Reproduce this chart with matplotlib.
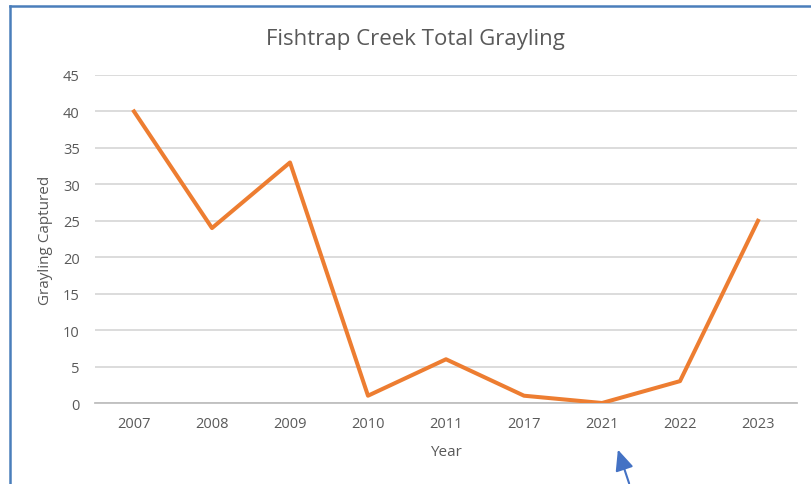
import matplotlib
matplotlib.use("Agg")
import matplotlib.pyplot as plt
from matplotlib.lines import Line2D

years = ["2007", "2008", "2009", "2010", "2011", "2017", "2021", "2022", "2023"]
grayling = [40, 24, 33, 1, 6, 1, 0, 3, 25]
yticks = [0, 5, 10, 15, 20, 25, 30, 35, 40, 45]

plt.rcParams['font.family'] = ['Open Sans', 'DejaVu Sans']
txt = '#595959'

fig = plt.figure(figsize=(8.12, 4.85), dpi=100)
ax = fig.add_axes([95/812, 1-404/485, 702/812, 328/485])

x = list(range(len(years)))
ax.plot(x, grayling, color='#ED7D31', linewidth=2.9, solid_joinstyle='round', zorder=3)
ax.set_xlim(-0.5, len(years)-0.5)
ax.set_ylim(0, 45)
ax.set_yticks(yticks)
ax.set_xticks(x)
ax.set_xticklabels(years)
ax.grid(axis='y', color='#d9d9d9', linewidth=1.3)
ax.set_axisbelow(True)
for s in ['top', 'right', 'left']:
    ax.spines[s].set_visible(False)
ax.spines['bottom'].set_color('#bfbfbf')
ax.spines['bottom'].set_linewidth(1.3)
ax.tick_params(axis='both', length=0, colors=txt, labelsize=10.5)
ax.tick_params(axis='y', pad=11)
ax.tick_params(axis='x', pad=9)
ax.set_xlabel('Year', color=txt, fontsize=11, labelpad=10)
ax.set_ylabel('Grayling Captured', color=txt, fontsize=11, labelpad=7)
fig.text(415/812, 1-40/485, 'Fishtrap Creek Total Grayling', color=txt, fontsize=16,
         ha='center', va='center')

# frame border
fig.add_artist(Line2D([10/812, 10/812], [0, 1-7/485], transform=fig.transFigure,
                      color='#4a7ebb', linewidth=1.8))
fig.add_artist(Line2D([10/812, 1], [1-7/485, 1-7/485], transform=fig.transFigure,
                      color='#4a7ebb', linewidth=1.8))
# arrow
fig.add_artist(matplotlib.patches.FancyArrowPatch(
    (630/812, 1-487/485), (617/812, 1-448/485), transform=fig.transFigure,
    arrowstyle='-|>,head_length=9,head_width=4', color='#4472C4', linewidth=1.5,
    mutation_scale=1.4))

fig.savefig('out.png', dpi=100)
